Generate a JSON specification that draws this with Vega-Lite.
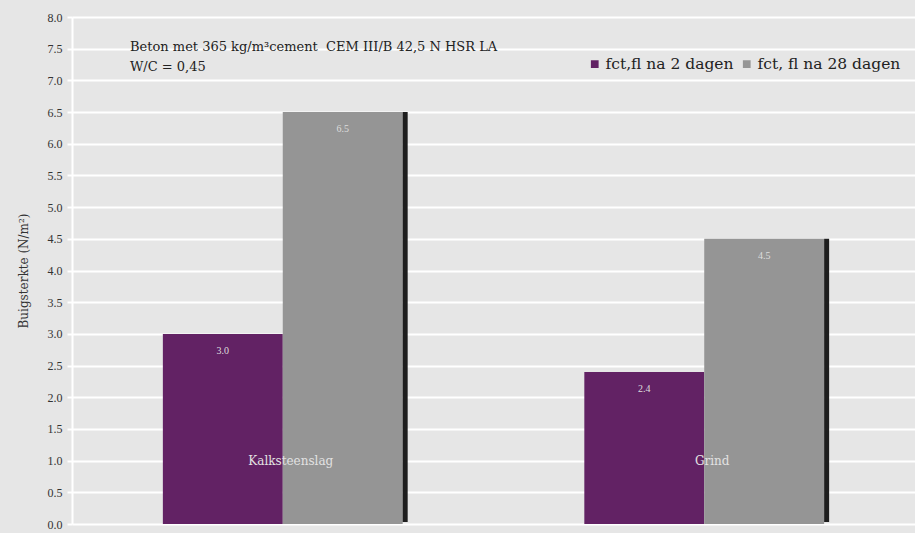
{
  "$schema": "https://vega.github.io/schema/vega-lite/v6.json",
  "autosize": {"type": "none"},
  "width": 843,
  "height": 507,
  "padding": {"left": 72, "top": 17, "right": 0, "bottom": 9},
  "background": "#e6e6e6",
  "title": {
    "text": ["Beton met 365 kg/m³cement \u00a0CEM III/B 42,5 N HSR LA", "W/C = 0,45"],
    "anchor": "start",
    "frame": "group",
    "orient": "top",
    "baseline": "top",
    "offset": 0,
    "dx": 58,
    "dy": 63,
    "font": "DejaVu Serif",
    "fontSize": 13,
    "fontWeight": "normal",
    "color": "#222222",
    "lineHeight": 20
  },
  "data": {
    "values": [
      {"cat": "Kalksteenslag", "serie": "fct,fl na 2 dagen", "v": 3.0},
      {"cat": "Kalksteenslag", "serie": "fct, fl na 28 dagen", "v": 6.5},
      {"cat": "Grind", "serie": "fct,fl na 2 dagen", "v": 2.4},
      {"cat": "Grind", "serie": "fct, fl na 28 dagen", "v": 4.5}
    ]
  },
  "encoding": {
    "x": {
      "field": "cat",
      "type": "nominal",
      "scale": {"domain": ["Kalksteenslag", "Grind"], "paddingInner": 0.431, "paddingOuter": 0.2156},
      "axis": null
    },
    "y": {
      "field": "v",
      "type": "quantitative",
      "scale": {"domain": [0, 8], "nice": false},
      "axis": {
        "values": [0, 0.5, 1, 1.5, 2, 2.5, 3, 3.5, 4, 4.5, 5, 5.5, 6, 6.5, 7, 7.5, 8],
        "format": ".1f",
        "title": "Buigsterkte (N/m²)",
        "titleFont": "DejaVu Serif",
        "titleFontSize": 12,
        "titleFontWeight": "normal",
        "titleColor": "#333333",
        "titlePadding": 17,
        "labelFont": "Liberation Serif",
        "labelFontSize": 12,
        "labelColor": "#333333",
        "labelPadding": 5,
        "domainColor": "#ffffff",
        "domainWidth": 2,
        "tickColor": "#ffffff",
        "tickWidth": 2,
        "tickSize": 5,
        "gridColor": "#ffffff",
        "gridWidth": 2,
        "gridOpacity": 1
      }
    }
  },
  "layer": [
    {
      "mark": {"type": "bar"},
      "encoding": {
        "xOffset": {"field": "serie", "type": "nominal", "scale": {"domain": ["fct,fl na 2 dagen", "fct, fl na 28 dagen"], "paddingInner": 0}},
        "color": {
          "field": "serie",
          "type": "nominal",
          "scale": {"domain": ["fct,fl na 2 dagen", "fct, fl na 28 dagen"], "range": ["#622264", "#959595"]},
          "legend": {
            "title": null,
            "orient": "none",
            "legendX": 515,
            "legendY": 39,
            "direction": "horizontal",
            "symbolType": "square",
            "symbolSize": 60,
            "symbolStrokeWidth": 0,
            "labelFont": "DejaVu Serif",
            "labelFontSize": 15.5,
            "labelColor": "#222222",
            "columnPadding": 5,
            "labelOffset": 3
          }
        }
      }
    },
    {
      "transform": [{"filter": "datum.serie == 'fct, fl na 28 dagen'"}],
      "mark": {"type": "rule", "color": "#1e1e1e", "strokeWidth": 5, "xOffset": 2.5},
      "encoding": {
        "x": {"field": "cat", "type": "nominal", "bandPosition": 1},
        "y2": {"datum": 0.03}
      }
    },
    {
      "mark": {"type": "text", "baseline": "middle", "dy": 17, "color": "#dddddd", "font": "Liberation Serif", "fontSize": 10},
      "encoding": {
        "xOffset": {"field": "serie", "type": "nominal", "scale": {"domain": ["fct,fl na 2 dagen", "fct, fl na 28 dagen"], "paddingInner": 0}},
        "text": {"field": "v", "type": "quantitative", "format": ".1f"}
      }
    },
    {
      "transform": [{"filter": "datum.serie == 'fct,fl na 2 dagen'"}],
      "mark": {"type": "text", "baseline": "middle", "dx": 8, "color": "#e2e2e2", "font": "DejaVu Serif", "fontSize": 12},
      "encoding": {
        "y": {"datum": 1},
        "text": {"field": "cat", "type": "nominal"}
      }
    }
  ],
  "config": {"view": {"stroke": null}}
}
